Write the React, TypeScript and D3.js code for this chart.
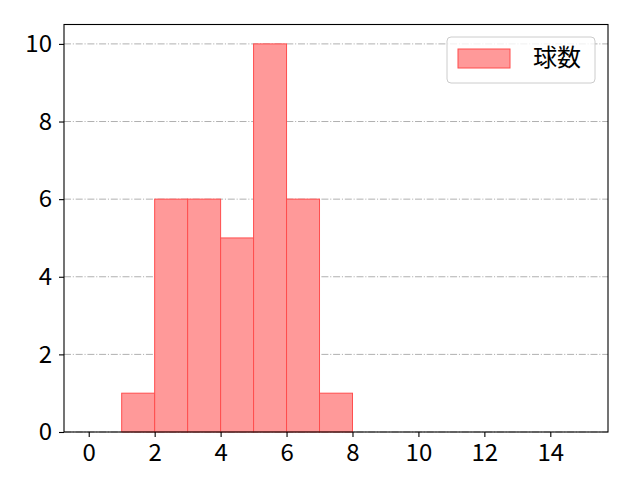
import * as d3 from 'd3';
import { useEffect, useRef } from 'react';

// ヒストグラムのビン（左端）と度数
const binStarts = [1, 2, 3, 4, 5, 6, 7];
const binCounts = [1, 6, 6, 5, 10, 6, 1];
const binWidth = 1;
const xTicks = [0, 2, 4, 6, 8, 10, 12, 14];
const yTicks = [0, 2, 4, 6, 8, 10];
const legendLabel = '球数';

const W = 640;
const H = 480;
const margin = { top: 24.5, right: 32, bottom: 48, left: 64 };
const font = '"Noto Sans CJK JP", "Noto Sans", sans-serif';

export default function App() {
	const ref = useRef<SVGSVGElement>(null);

	useEffect(() => {
		const svg = d3.select(ref.current);
		svg.selectAll('*').remove();

		const x = d3
			.scaleLinear()
			.domain([-0.75, 15.75])
			.range([margin.left, W - margin.right]);
		const y = d3
			.scaleLinear()
			.domain([0, 10.5])
			.range([H - margin.bottom, margin.top]);

		svg.append('rect').attr('width', W).attr('height', H).attr('fill', '#fff');

		// グリッド（横線のみ）
		svg
			.append('g')
			.selectAll('line')
			.data(yTicks)
			.enter()
			.append('line')
			.attr('x1', margin.left)
			.attr('x2', W - margin.right)
			.attr('y1', (d) => y(d))
			.attr('y2', (d) => y(d))
			.attr('stroke', '#b0b0b0')
			.attr('stroke-width', 1)
			.attr('stroke-dasharray', '7,1.8,1.1,1.8');

		// 棒
		svg
			.append('g')
			.selectAll('rect')
			.data(binStarts.map((s, i) => ({ s, c: binCounts[i] })))
			.enter()
			.append('rect')
			.attr('x', (d) => x(d.s))
			.attr('width', (d) => x(d.s + binWidth) - x(d.s))
			.attr('y', (d) => y(d.c))
			.attr('height', (d) => y(0) - y(d.c))
			.attr('fill', '#ff9999')
			.attr('stroke', '#ff4d4d')
			.attr('stroke-width', 1);

		// 枠
		svg
			.append('rect')
			.attr('x', margin.left)
			.attr('y', margin.top)
			.attr('width', W - margin.left - margin.right)
			.attr('height', H - margin.top - margin.bottom)
			.attr('fill', 'none')
			.attr('stroke', '#000')
			.attr('stroke-width', 1.1);

		// 軸
		const xAxis = d3.axisBottom(x).tickValues(xTicks).tickSize(5).tickPadding(7);
		const gx = svg
			.append('g')
			.attr('transform', `translate(0, ${H - margin.bottom})`)
			.call(xAxis);
		const yAxis = d3.axisLeft(y).tickValues(yTicks).tickSize(5).tickPadding(7);
		const gy = svg.append('g').attr('transform', `translate(${margin.left}, 0)`).call(yAxis);

		[gx, gy].forEach((g) => {
			g.attr('font-size', null).attr('font-family', null);
			g.select('.domain').remove();
			g.selectAll('line').attr('stroke', '#000').attr('stroke-width', 1.1);
			g.selectAll('text')
				.attr('fill', '#000')
				.attr('font-family', font)
				.attr('font-size', 24);
		});

		// 凡例
		const lg = svg.append('g');
		lg.append('rect')
			.attr('x', 447)
			.attr('y', 37)
			.attr('width', 148)
			.attr('height', 46)
			.attr('rx', 4)
			.attr('fill', '#fff')
			.attr('fill-opacity', 0.8)
			.attr('stroke', '#cccccc');
		lg.append('rect')
			.attr('x', 458)
			.attr('y', 49)
			.attr('width', 52)
			.attr('height', 19)
			.attr('fill', '#ff9999')
			.attr('stroke', '#ff4d4d');
		lg.append('text')
			.attr('x', 533)
			.attr('y', 66)
			.attr('fill', '#000')
			.attr('font-family', font)
			.attr('font-size', 24)
			.text(legendLabel);
	}, []);

	return (
		<svg
			ref={ref}
			width={W}
			height={H}
			style={{ position: 'absolute', left: 0, top: 0 }}
		></svg>
	);
}
